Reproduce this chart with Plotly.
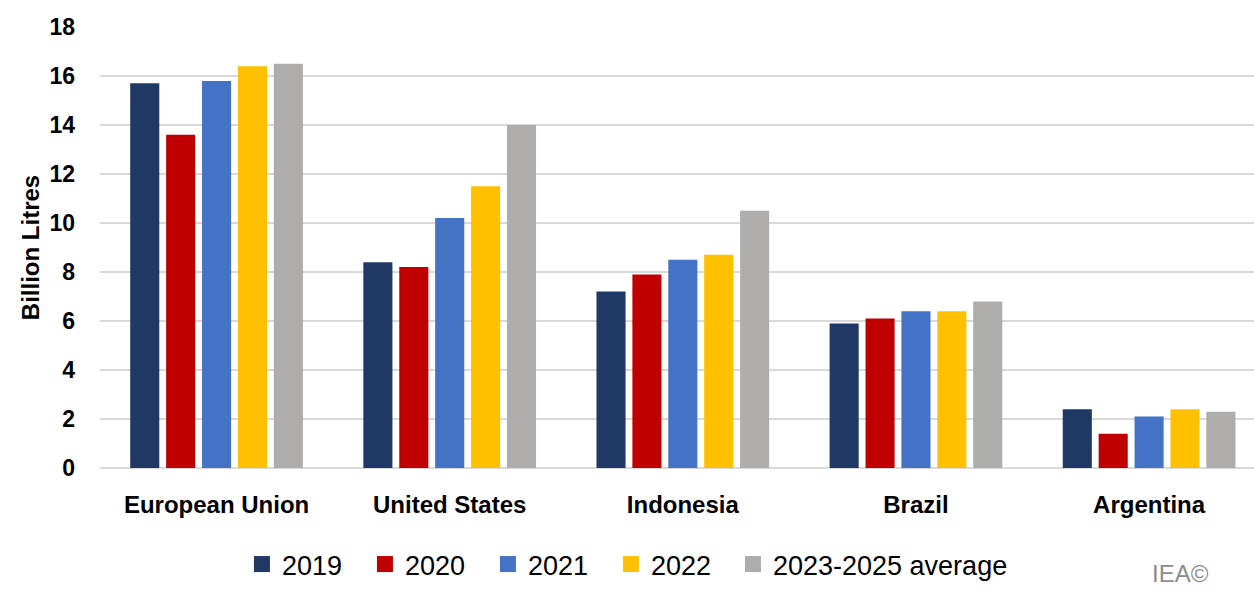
import plotly.graph_objects as go

# Biodiesel/renewable diesel demand by market, billion litres
countries = ["European Union", "United States", "Indonesia", "Brazil", "Argentina"]
series_names = ["2019", "2020", "2021", "2022", "2023-2025 average"]
v2019 = [15.7, 8.4, 7.2, 5.9, 2.4]
v2020 = [13.6, 8.2, 7.9, 6.1, 1.4]
v2021 = [15.8, 10.2, 8.5, 6.4, 2.1]
v2022 = [16.4, 11.5, 8.7, 6.4, 2.4]
vavg = [16.5, 14.0, 10.5, 6.8, 2.3]
y_ticks = [0, 2, 4, 6, 8, 10, 12, 14, 16, 18]

colors = ["#1F3864", "#C00000", "#4472C4", "#FFC000", "#AEADAB"]
values = [v2019, v2020, v2021, v2022, vavg]

FONT = "Liberation Sans, Arial, sans-serif"

fig = go.Figure()
for i, (name, vals, col) in enumerate(zip(series_names, values, colors)):
    fig.add_trace(go.Bar(
        x=list(range(len(countries))), y=vals, name=name,
        marker=dict(color=col, line=dict(width=0)),
        legendgroup=name, showlegend=False, hoverinfo="y",
    ))
    # legend-only entry with a larger square swatch; the long last label
    # gets its own legend box so the fixed entry width does not clip it
    fig.add_trace(go.Scatter(
        x=[None], y=[None], mode="markers", name=name, legendgroup=name,
        marker=dict(symbol="square", size=18, color=col, line=dict(width=0)),
        showlegend=True, hoverinfo="skip",
        legend="legend2" if i == len(series_names) - 1 else "legend",
    ))

legend_common = dict(
    orientation="h", y=-0.22, yanchor="middle", xanchor="left",
    font=dict(family=FONT, size=27, color="#000000"),
    itemsizing="trace", tracegroupgap=0, bgcolor="rgba(0,0,0,0)",
)

fig.update_layout(
    width=1254, height=589,
    margin=dict(l=100, r=0, t=27, b=121),
    paper_bgcolor="white", plot_bgcolor="white",
    barmode="group", bargap=0.23, bargroupgap=0.19,
    showlegend=True,
    legend=dict(legend_common, x=0.123, entrywidth=78, entrywidthmode="pixels"),
    legend2=dict(legend_common, x=0.5485),
    xaxis=dict(
        tickmode="array", tickvals=list(range(len(countries))), ticktext=countries,
        range=[-0.5, 4.45], showgrid=False, zeroline=False, showline=False,
        ticks="", ticklabelstandoff=20,
        tickfont=dict(family=FONT, size=24, color="#000000", weight="bold"),
    ),
    yaxis=dict(
        range=[0, 18], tickmode="array", tickvals=y_ticks,
        showgrid=True, gridcolor="#D9D9D9", gridwidth=2,
        zeroline=True, zerolinecolor="#D9D9D9", zerolinewidth=2,
        showline=False, ticks="", ticklabelstandoff=24,
        tickfont=dict(family=FONT, size=23, color="#000000", weight="bold"),
        title=dict(text="Billion Litres", standoff=3,
                   font=dict(family=FONT, size=24, color="#000000", weight="bold")),
    ),
)

fig.add_annotation(
    text="IEA©", xref="paper", yref="paper", x=0.936, y=-0.2735,
    xanchor="center", yanchor="bottom", showarrow=False,
    font=dict(family=FONT, size=24, color="#8C8C8C"),
)

fig.write_html("out.html")
